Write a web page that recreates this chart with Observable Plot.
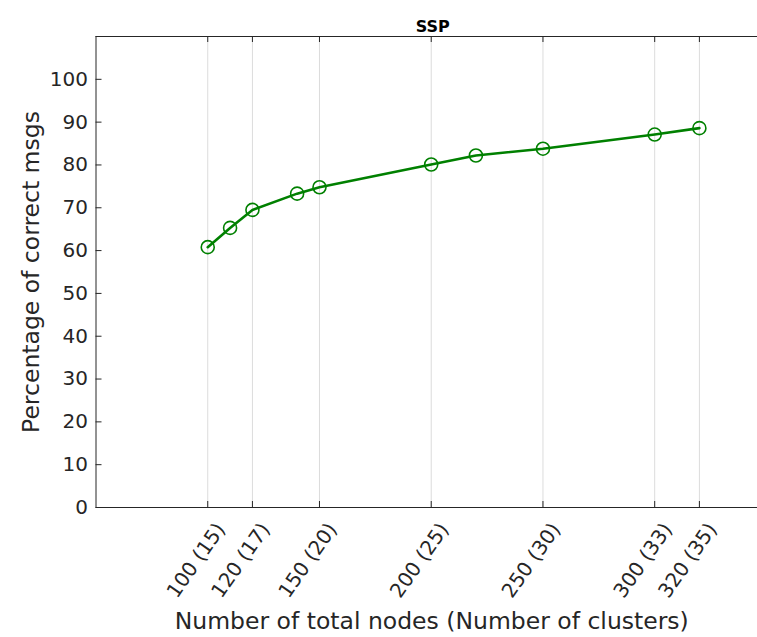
<!DOCTYPE html>
<html>
<head>
<meta charset="utf-8">
<script src="https://cdn.jsdelivr.net/npm/d3@7"></script>
<script src="https://cdn.jsdelivr.net/npm/@observablehq/plot@0.6"></script>
<style>
  html, body { margin: 0; padding: 0; background: #fff; overflow: hidden; }
  svg { display: block; }
</style>
</head>
<body>
<div id="chart"></div>
<script>
const nodes = [100, 110, 120, 140, 150, 200, 220, 250, 300, 320];
const correctPct = [60.8, 65.3, 69.5, 73.3, 74.8, 80.1, 82.2, 83.8, 87.1, 88.6];
const xTickValues = [100, 120, 150, 200, 250, 300, 320];
const xTickLabels = ["100 (15)", "120 (17)", "150 (20)", "200 (25)", "250 (30)", "300 (33)", "320 (35)"];
const yTickValues = [0, 10, 20, 30, 40, 50, 60, 70, 80, 90, 100];

const data = nodes.map((n, i) => ({n, p: correctPct[i]}));
const labelFor = new Map(xTickValues.map((v, i) => [v, xTickLabels[i]]));

const W = 757, H = 637;
const mL = 95.5, mR = 0, mT = 36, mB = 130;
const frameH = H - mT - mB;
const frameW = W - mL - mR;
const ink = "#262626";
const green = "#008000";
const font = "DejaVu Sans, sans-serif";

const chart = Plot.plot({
  width: W,
  height: H,
  marginLeft: mL,
  marginRight: mR,
  marginTop: mT,
  marginBottom: mB,
  style: {fontFamily: font, fontSize: "20px", color: ink, background: "#fff"},
  x: {domain: [50, 346], ticks: xTickValues},
  y: {domain: [0, 110], ticks: yTickValues},
  marks: [
    Plot.ruleX(xTickValues, {x: d => d, stroke: "#dcdcdc", strokeWidth: 1}),
    Plot.ruleY([0, 110], {y: d => d, stroke: ink, strokeWidth: 1}),
    Plot.ruleX([50], {x: d => d, stroke: ink, strokeWidth: 1}),
    Plot.ruleX(xTickValues, {x: d => d, stroke: ink, strokeWidth: 1, insetTop: frameH - 6}),
    Plot.ruleX(xTickValues, {x: d => d, stroke: ink, strokeWidth: 1, insetBottom: frameH - 6}),
    Plot.ruleY(yTickValues, {y: d => d, stroke: ink, strokeWidth: 1, insetRight: frameW - 6}),
    Plot.axisX({
      ticks: xTickValues,
      tickSize: 0,
      tickPadding: 18,
      tickRotate: -55,
      tickFormat: d => labelFor.get(d),
      fontSize: 20,
      dx: 13,
      fill: ink,
      label: null
    }),
    Plot.axisY({
      ticks: yTickValues,
      tickSize: 0,
      tickPadding: 8,
      fontSize: 20,
      fill: ink,
      label: null
    }),
    Plot.line(data, {x: "n", y: "p", stroke: green, strokeWidth: 2.6}),
    Plot.dot(data, {x: "n", y: "p", r: 6.5, stroke: green, strokeWidth: 1.6, fill: "none"}),
    Plot.text(["SSP"], {frameAnchor: "top", text: d => d, dy: -16, dx: 6, fontSize: 16, fontWeight: "bold", fill: "#000"}),
    Plot.text(["Percentage of correct msgs"], {frameAnchor: "left", textAnchor: "middle", text: d => d, rotate: -90, dx: -65, dy: 0, fontSize: 23.5, fill: ink}),
    Plot.text(["Number of total nodes (Number of clusters)"], {frameAnchor: "bottom", text: d => d, dx: 5, dy: 121, fontSize: 23.5, fill: ink})
  ]
});

document.getElementById("chart").appendChild(chart);
</script>
</body>
</html>
